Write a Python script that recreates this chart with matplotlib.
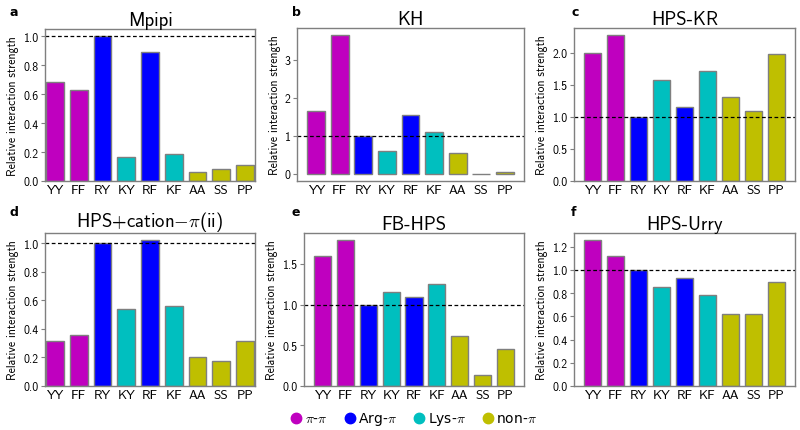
import matplotlib
matplotlib.use("Agg")
import matplotlib.pyplot as plt
from matplotlib.lines import Line2D
from matplotlib.ticker import MultipleLocator

plt.rcParams['font.family'] = ['cmss10', 'DejaVu Sans']
plt.rcParams['mathtext.fontset'] = 'cm'
plt.rcParams['axes.formatter.use_mathtext'] = True
plt.rcParams['axes.unicode_minus'] = False

pairs = ["YY", "FF", "RY", "KY", "RF", "KF", "AA", "SS", "PP"]
pair_group = ["pi", "pi", "arg", "lys", "arg", "lys", "non", "non", "non"]
group_colors = {"pi": "m", "arg": "b", "lys": "c", "non": "y"}
group_labels = ["$\\pi$-$\\pi$", "Arg-$\\pi$", "Lys-$\\pi$", "non-$\\pi$"]
group_order = ["pi", "arg", "lys", "non"]

titles = ["Mpipi", "KH", "HPS-KR", "HPS+cation$-\\pi$(ii)", "FB-HPS", "HPS-Urry"]
panel_letters = ["a", "b", "c", "d", "e", "f"]

mpipi = [0.685, 0.63, 1.0, 0.165, 0.89, 0.185, 0.062, 0.08, 0.11]
kh = [1.65, 3.66, 1.0, 0.61, 1.54, 1.10, 0.54, -0.01, 0.04]
hps_kr = [1.99, 2.27, 1.0, 1.58, 1.15, 1.72, 1.31, 1.09, 1.98]
hps_cation = [0.314, 0.358, 1.0, 0.539, 1.02, 0.562, 0.206, 0.176, 0.314]
fb_hps = [1.60, 1.79, 1.0, 1.155, 1.094, 1.25, 0.62, 0.14, 0.457]
hps_urry = [1.255, 1.12, 1.0, 0.85, 0.934, 0.786, 0.623, 0.623, 0.894]

datasets = [mpipi, kh, hps_kr, hps_cation, fb_hps, hps_urry]
tight_x = [True, False, False, True, False, False]
ytick_steps = [0.2, 1.0, 0.5, 0.2, 0.5, 0.2]

W, H = 800, 431
# axes boxes in pixels: left, right, top, bottom
boxes = [
    (45, 255, 30, 182),
    (297, 524, 29, 182),
    (574, 795, 29, 182),
    (45, 255, 234, 387),
    (304, 524, 234, 387),
    (574, 795, 234, 387),
]
label_pos = [(10, 12), (292, 12), (571, 12), (10, 213), (292, 213), (571, 213)]

fig = plt.figure(figsize=(8.0, 4.31), dpi=100)
fig.patch.set_facecolor("white")

colors = [group_colors[g] for g in pair_group]
edge = "#7f7f7f"

for i, vals in enumerate(datasets):
    l, r, t, b = boxes[i]
    ax = fig.add_axes([l / W, 1 - b / H, (r - l) / W, (b - t) / H])
    x = list(range(len(pairs)))
    ax.bar(x, vals, width=0.75, color=colors, edgecolor=edge, linewidth=1.0)
    ax.axhline(1.0, color="black", linestyle="--", linewidth=0.9, dashes=(3, 2))
    if tight_x[i]:
        ax.set_xlim(-0.42, 8.42)
    ax.yaxis.set_major_locator(MultipleLocator(ytick_steps[i]))
    if ytick_steps[i] >= 1:
        ax.yaxis.set_major_formatter(plt.FormatStrFormatter("%d"))
    else:
        ax.yaxis.set_major_formatter(plt.FormatStrFormatter("%.1f"))
    ax.set_xticks(x)
    ax.set_xticklabels(pairs, fontsize=9.5)
    ax.tick_params(axis="y", labelsize=8.5, length=3, color=edge, pad=1.5)
    ax.tick_params(axis="x", length=0, pad=2)
    ax.set_ylabel("Relative interaction strength", fontsize=8.5, labelpad=3)
    ax.set_title(titles[i], fontsize=13.5, pad=3)
    for s in ax.spines.values():
        s.set_color(edge)
        s.set_linewidth(1.0)
    px, py = label_pos[i]
    fig.text(px / W, 1 - py / H, panel_letters[i], fontsize=9, fontweight="bold",
             family="DejaVu Sans", ha="left", va="center")

handles = [Line2D([0], [0], marker="o", linestyle="none", markersize=7.5,
                  markerfacecolor=group_colors[g], markeredgecolor=group_colors[g])
           for g in group_order]
fig.legend(handles, group_labels, loc="center", bbox_to_anchor=(414 / W, 1 - 420 / H),
           ncol=4, frameon=False, prop={"family": "DejaVu Sans", "size": 10},
           handletextpad=0.2, columnspacing=1.2, handlelength=0.8)

fig.savefig("out.png", dpi=100)
